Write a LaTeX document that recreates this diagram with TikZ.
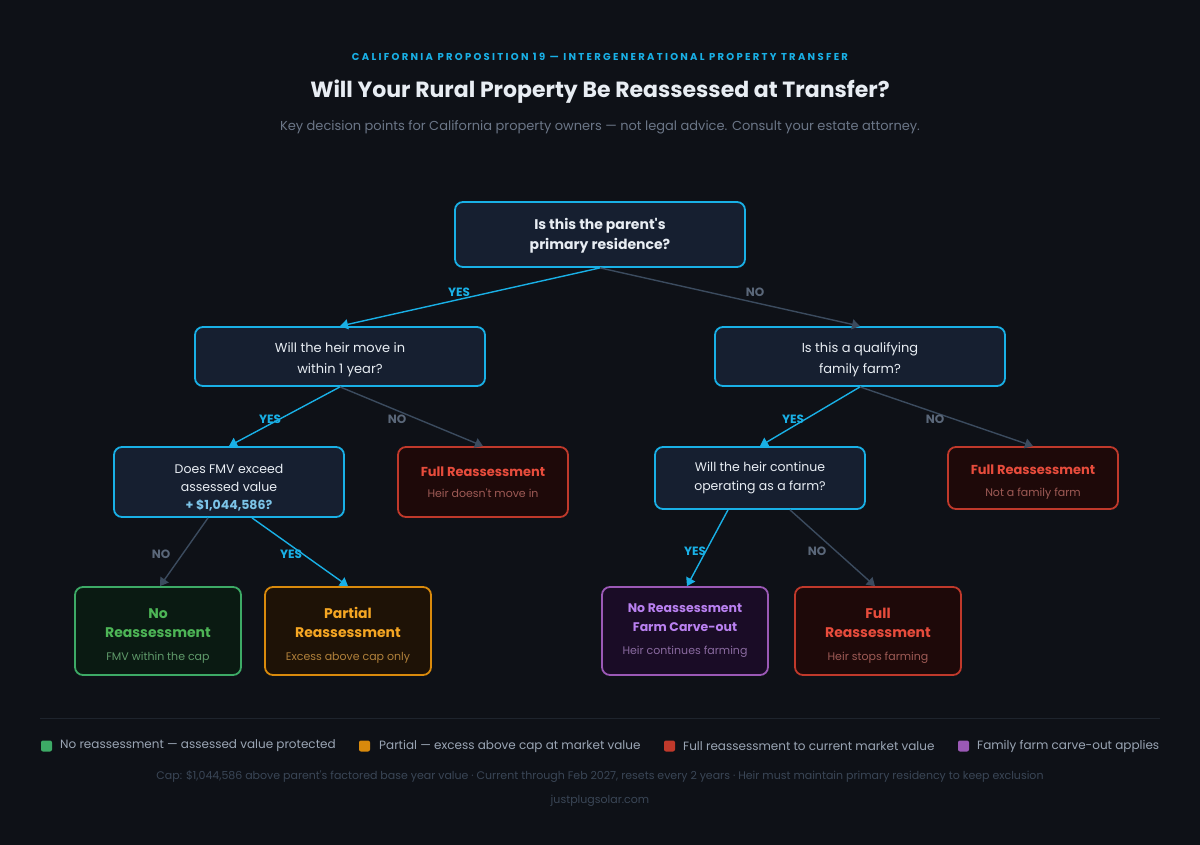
\documentclass[tikz,border=0pt]{standalone}
\usepackage{fontspec}
\setmainfont{Poppins}
\newfontfamily\spacedfont[LetterSpace=23]{Poppins}
\usetikzlibrary{arrows.meta}
\definecolor{bg}{HTML}{0E1117}
\definecolor{qfill}{HTML}{161F30}
\definecolor{cyanb}{HTML}{19B0E6}
\definecolor{grayline}{HTML}{3B4B5E}
\definecolor{nolabel}{HTML}{5A6779}
\definecolor{txt}{HTML}{E8EDF3}
\definecolor{amount}{HTML}{7CC4E8}
\definecolor{redb}{HTML}{C0392B}
\definecolor{redfill}{HTML}{1E0909}
\definecolor{redtitle}{HTML}{E74C3C}
\definecolor{redsub}{HTML}{9E5A55}
\definecolor{greenb}{HTML}{3DAA66}
\definecolor{greenfill}{HTML}{0A1A12}
\definecolor{greentitle}{HTML}{4DB556}
\definecolor{greensub}{HTML}{5F9A6A}
\definecolor{orangeb}{HTML}{D98A0C}
\definecolor{orangefill}{HTML}{1E1206}
\definecolor{orangetitle}{HTML}{F5A623}
\definecolor{orangesub}{HTML}{B0803A}
\definecolor{purpleb}{HTML}{9B59B6}
\definecolor{purplefill}{HTML}{1A0C26}
\definecolor{purpletitle}{HTML}{B980F0}
\definecolor{purplesub}{HTML}{8A6AA0}
\definecolor{legtxt}{HTML}{9AA5B4}
\definecolor{foot}{HTML}{3A4656}
\definecolor{subtitle}{HTML}{6B7687}
\definecolor{sep}{HTML}{1E242D}
\newcommand\lift[1]{\rule{0pt}{#1}}
\newcommand\apos{\textquotesingle}
\tikzset{
  box/.style={draw, rounded corners=8pt, line width=1.8pt, align=center, inner sep=0pt},
  qbox/.style={box, draw=cyanb, fill=qfill, text=txt},
  redbox/.style={box, draw=redb, fill=redfill},
  greenbox/.style={box, draw=greenb, fill=greenfill},
  orangebox/.style={box, draw=orangeb, fill=orangefill},
  purplebox/.style={box, draw=purpleb, fill=purplefill},
  yesline/.style={draw=cyanb, line width=1.4pt, -{Triangle[length=8pt,width=10pt]}},
  noline/.style={draw=grayline, line width=1.4pt, -{Triangle[length=8pt,width=10pt]}},
  yeslab/.style={text=cyanb, font=\fontsize{12}{14}\selectfont\bfseries},
  nolab/.style={text=nolabel, font=\fontsize{12}{14}\selectfont\bfseries},
  legsq/.style={fill=#1, rounded corners=2pt, minimum size=11pt, inner sep=0pt},
  legtext/.style={text=legtxt, anchor=west, inner sep=0pt, font=\fontsize{12}{15}\selectfont},
}
\begin{document}
\begin{tikzpicture}[x=1pt,y=-1pt]
\path[fill=bg] (0,0) rectangle (1200,845);
\useasboundingbox (0,0) rectangle (1200,845);

% header
\node (hdr) at (600,57) {\spacedfont\fontsize{10}{12}\selectfont\bfseries\color{cyanb}CALIFORNIA PROPOSITION 19 — INTERGENERATIONAL PROPERTY TRANSFER};
\node[text=txt, font=\fontsize{22}{26}\selectfont\bfseries] (title) at (600,92) {Will Your Rural Property Be Reassessed at Transfer?};
\node[text=subtitle, font=\fontsize{13}{15}\selectfont] (subt) at (600,127) {Key decision points for California property owners — not legal advice. Consult your estate attorney.};

% decision nodes
\node[qbox, minimum width=290pt, minimum height=65pt, font=\fontsize{14}{20}\selectfont\bfseries] (root) at (600,234.5) {\lift{14.5pt}Is this the parent\apos s\\primary residence?};
\node[qbox, minimum width=290pt, minimum height=59pt, font=\fontsize{13}{21}\selectfont] (move) at (340,356.5) {\lift{16pt}Will the heir move in\\within 1 year?};
\node[qbox, minimum width=290pt, minimum height=59pt, font=\fontsize{13}{21}\selectfont] (farm) at (860,356.5) {\lift{16pt}Is this a qualifying\\family farm?};
\node[qbox, minimum width=230pt, minimum height=70pt, font=\fontsize{12.5}{18}\selectfont] (fmv) at (229,482) {\lift{20pt}Does FMV exceed\\assessed value\\{\color{amount}\bfseries + \$1,044,586?}};
\node[redbox, minimum width=170pt, minimum height=70pt, font=\fontsize{13}{21}\selectfont] (full1) at (483,482) {{\bfseries\color{redtitle}Full Reassessment}\\{\fontsize{11}{13}\selectfont\color{redsub}Heir doesn\apos t move in}};
\node[qbox, minimum width=210pt, minimum height=62pt, font=\fontsize{12.5}{19}\selectfont] (cont) at (760,478) {Will the heir continue\\operating as a farm?};
\node[redbox, minimum width=170pt, minimum height=62pt, font=\fontsize{13}{22}\selectfont] (full2) at (1033,478) {\lift{17pt}{\bfseries\color{redtitle}Full Reassessment}\\{\fontsize{11}{13}\selectfont\color{redsub}Not a family farm}};

% leaves
\node[greenbox, minimum width=166pt, minimum height=88pt, font=\fontsize{14}{19}\selectfont] (noreas) at (158,631) {\lift{19.5pt}{\bfseries\color{greentitle}No}\\{\bfseries\color{greentitle}Reassessment}\\[4pt]{\fontsize{11}{13}\selectfont\color{greensub}FMV within the cap}};
\node[orangebox, minimum width=166pt, minimum height=88pt, font=\fontsize{14}{19}\selectfont] (partial) at (348,631) {\lift{19.5pt}{\bfseries\color{orangetitle}Partial}\\{\bfseries\color{orangetitle}Reassessment}\\[4pt]{\fontsize{11}{13}\selectfont\color{orangesub}Excess above cap only}};
\node[purplebox, minimum width=166pt, minimum height=88pt, font=\fontsize{12.5}{19}\selectfont] (carve) at (685,631) {{\bfseries\color{purpletitle}No Reassessment}\\{\bfseries\color{purpletitle}Farm Carve-out}\\[4pt]{\fontsize{11}{13}\selectfont\color{purplesub}Heir continues farming}};
\node[redbox, minimum width=166pt, minimum height=88pt, font=\fontsize{14}{19}\selectfont] (full3) at (878,631) {\lift{19.5pt}{\bfseries\color{redtitle}Full}\\{\bfseries\color{redtitle}Reassessment}\\[4pt]{\fontsize{11}{13}\selectfont\color{redsub}Heir stops farming}};

% connectors
\draw[yesline] (root.south) -- (move.north);
\draw[noline] (root.south) -- (farm.north);
\draw[yesline] (move.south) -- (fmv.north);
\draw[noline] (move.south) -- (full1.north);
\draw[yesline] (farm.south) -- (cont.north);
\draw[noline] (farm.south) -- (full2.north);
\draw[noline] ([xshift=-21pt]fmv.south) -- ([xshift=2pt]noreas.north);
\draw[yesline] ([xshift=23pt]fmv.south) -- (partial.north);
\draw[yesline] ([xshift=-32pt]cont.south) -- ([xshift=2pt]carve.north);
\draw[noline] ([xshift=30pt]cont.south) -- ([xshift=-3pt]full3.north);

% connector labels
\node[yeslab] (y1) at (459,292) {YES};
\node[nolab] (n1) at (755,292) {NO};
\node[yeslab] (y2) at (270,419) {YES};
\node[nolab] (n2) at (397,419) {NO};
\node[yeslab] (y3) at (793,419) {YES};
\node[nolab] (n3) at (935,419) {NO};
\node[nolab] (n4) at (161,554) {NO};
\node[yeslab] (y4) at (291,554) {YES};
\node[yeslab] (y5) at (695,551) {YES};
\node[nolab] (n5) at (817,551) {NO};

% separator
\draw[sep, line width=1pt] (40,718) -- (1160,718);

% legend
\node[legsq=greenb] (sq1) at (46.5,746) {};
\node[legtext] (lt1) at (60,746) {No reassessment — assessed value protected};
\node[legsq=orangeb] (sq2) at (364.5,746) {};
\node[legtext] (lt2) at (379,746) {Partial — excess above cap at market value};
\node[legsq=redb] (sq3) at (669.5,746) {};
\node[legtext] (lt3) at (683,746) {Full reassessment to current market value};
\node[legsq=purpleb] (sq4) at (963.5,746) {};
\node[legtext] (lt4) at (977,746) {Family farm carve-out applies};

% footer
\node[text=foot, font=\fontsize{11}{13}\selectfont] (f1) at (600,776.5) {Cap: \$1,044,586 above parent\apos s factored base year value · Current through Feb 2027, resets every 2 years · Heir must maintain primary residency to keep exclusion};
\node[text=foot, font=\fontsize{11}{13}\selectfont] (f2) at (600,801) {justplugsolar.com};
\end{tikzpicture}
\end{document}
